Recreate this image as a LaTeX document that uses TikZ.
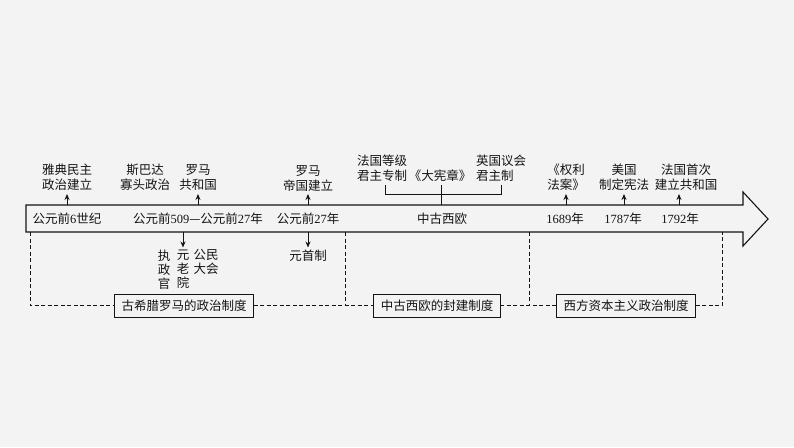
\documentclass[tikz,border=0pt]{standalone}
\usepackage{fontspec}
\setmainfont{Liberation Serif}
\newfontfamily\cjk{Noto Sans CJK SC}
\usetikzlibrary{arrows.meta}
\newcommand\nm[1]{{\rmfamily #1}}
\definecolor{bg}{RGB}{243,243,243}
\definecolor{ink}{RGB}{20,20,20}
\begin{document}
\begin{tikzpicture}[x=1pt,y=-1pt,
  every node/.style={font=\cjk\fontsize{12.5}{15}\selectfont, text=ink, inner sep=0pt, outer sep=0pt},
  lab/.style={align=center},
  vert/.style={align=center, font=\cjk\fontsize{12.5}{14}\selectfont, inner xsep=0pt, inner ysep=2pt},
  tip/.style={-{Stealth[length=6pt,width=5pt]}, line width=0.9pt, draw=ink},
  grp/.style={draw=ink, line width=0.9pt, fill=bg, minimum height=23pt, inner xsep=7pt},
  dsh/.style={draw=ink, line width=0.9pt, dash pattern=on 4pt off 2.5pt},
  ln/.style={draw=ink, line width=0.9pt}]
% background / bounding box
\fill[bg] (0,0) rectangle (794,447);
\useasboundingbox (0,0) rectangle (794,447);

% the timeline arrow
\draw[ink, line width=1.1pt, line join=miter] (26,205) -- (743,205) -- (743,192) -- (768,219)
  -- (743,246) -- (743,232) -- (26,232) -- cycle;

% texts on the bar
\node (t1) at (67,219) {公元前\nm{6}世纪};
\node (t2) at (198,219) {公元前\nm{509}—公元前\nm{27}年};
\node (t3) at (308,219) {公元前\nm{27}年};
\node (t4) at (442,219) {中古西欧};
\node (t5) at (565,219) {\nm{1689}年};
\node (t6) at (623,219) {\nm{1787}年};
\node (t7) at (680,219) {\nm{1792}年};

% anchor points on the bar
\coordinate (u1) at (67,205);
\coordinate (u3) at (198,205);
\coordinate (u4) at (308,205);
\coordinate (u5) at (566,205);
\coordinate (u6) at (624,205);
\coordinate (u7) at (679,205);
\coordinate (m)  at (441,205);
\coordinate (dn2) at (183,232);
\coordinate (dn3) at (308,232);

% labels above
\node[lab, anchor=south, inner ysep=3pt] (a1) at (67,194) {雅典民主\\政治建立};
\node[lab, anchor=south, inner ysep=3pt] (a2) at (145,194) {斯巴达\\寡头政治};
\node[lab, anchor=south, inner ysep=3pt] (a3) at (198,194) {罗马\\共和国};
\node[lab, anchor=south, inner ysep=3pt] (a4) at (308,194) {罗马\\帝国建立};
\node[lab, anchor=south, inner ysep=3pt] (a5) at (566,194) {《权利\\法案》};
\node[lab, anchor=south, inner ysep=3pt] (a6) at (624,194) {美国\\制定宪法};
\node[lab, anchor=south, inner ysep=3pt] (a7) at (686,194) {法国首次\\建立共和国};

\draw[tip] (u1) -- (a1.south);
\draw[tip] (u3) -- (a3.south);
\draw[tip] (u4) -- (a4.south);
\draw[tip] (u5) -- (a5.south);
\draw[tip] (u6) -- (a6.south);
\draw[tip] (u7) -- (u7 |- a7.south);

% medieval group above
\node[lab, anchor=south] (b1) at (382,182) {法国等级\\君主专制};
\node[anchor=south] (b2) at (440,182) {《大宪章》};
\node[lab, align=left, anchor=south] (b3) at (501,182) {英国议会\\君主制};
\coordinate (k1) at (385,185);
\coordinate (k2) at (501,185);
\coordinate (k0) at (441,185);
\draw[ln] (k1) -- ++(0,9) -| (k2);
\draw[ln] (k0) -- (m);

% labels below
\node[vert, anchor=north] (c1) at (164,247.5) {执\\政\\官};
\node[vert, anchor=north] (c2) at (183,247.5) {元\\老\\院};
\node[vert, anchor=north] (c3) at (206,247.5) {公民\\大会};
\node[vert, anchor=north] (c4) at (308,247.5) {元首制};
\draw[tip] (dn2) -- (c2.north);
\draw[tip] (dn3) -- (c4.north);

% group boxes
\node[grp] (g1) at (184,305.5) {古希腊罗马的政治制度};
\node[grp] (g2) at (437,305.5) {中古西欧的封建制度};
\node[grp] (g3) at (626,305.5) {西方资本主义政治制度};
\coordinate (v1) at (30,232);
\coordinate (v2) at (345,232);
\coordinate (v3) at (529,232);
\coordinate (v4) at (722,232);
\draw[dsh] (v1) -- (v1 |- g1.west) -- (g1.west);
\draw[dsh] (g1.east) -- (g2.west);
\draw[dsh] (v2) -- (v2 |- g1.east);
\draw[dsh] (g2.east) -- (g3.west);
\draw[dsh] (v3) -- (v3 |- g2.east);
\draw[dsh] (g3.east) -- (v4 |- g3.east) -- (v4);
\end{tikzpicture}
\end{document}
